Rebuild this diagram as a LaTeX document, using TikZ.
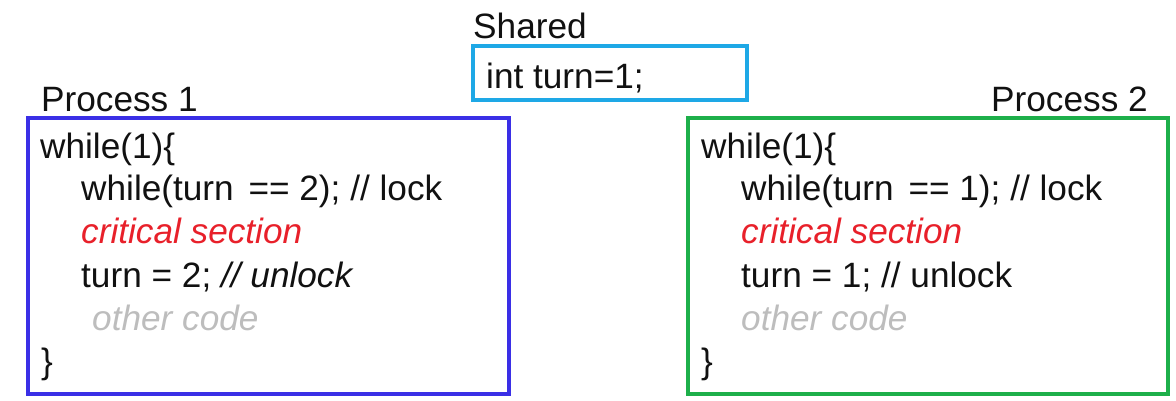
\documentclass[tikz,border=0pt]{standalone}
\usepackage{fontspec}
\setmainfont{Liberation Sans}
\definecolor{pblue}{HTML}{3A2FE6}
\definecolor{pgreen}{HTML}{1DAF4A}
\definecolor{pcyan}{HTML}{1EA8E6}
\definecolor{cred}{HTML}{E8202A}
\definecolor{cgray}{HTML}{BDBDBD}
\definecolor{ink}{HTML}{111111}
\begin{document}
\begin{tikzpicture}[x=1pt,y=-1pt,
  frame/.style={draw=#1,line width=4pt,inner sep=0pt,anchor=north west},
  txt/.style={anchor=base west,inner sep=0pt,text=ink,font=\fontsize{35.2}{43}\selectfont},
  crit/.style={txt,text=cred,font=\fontsize{35.2}{43}\selectfont\itshape},
  other/.style={txt,text=cgray,font=\fontsize{35.2}{43}\selectfont\itshape}]
\useasboundingbox (0,0) rectangle (1176,400);
% shared
\node[txt] (sharedlbl) at (473,38) {Shared};
\node[frame=pcyan,line width=3.5pt,minimum width=274pt,minimum height=54pt] (shared) at (471,44) {};
\node[txt] (sharedcode) at (486,88) {int turn=1;};
% process 1
\node[txt] (p1lbl) at (41,111) {Process 1};
\node[frame=pblue,minimum width=481pt,minimum height=276pt] (p1) at (26,116) {};
\node[txt] (a1) at (40,158) {while(1)\{};
\node[txt] (a2) at (81,200) {while(turn\kern5pt\ == 2); // lock};
\node[crit] (a3) at (81,243) {critical section};
\node[txt] (a4) at (81,287) {turn = 2; \textit{// unlock}};
\node[other] (a5) at (92,330) {other code};
\node[txt] (a6) at (41,373) {\}};
% process 2
\node[txt] (p2lbl) at (991,111) {Process 2};
\node[frame=pgreen,minimum width=480pt,minimum height=276pt] (p2) at (686,116) {};
\node[txt] (b1) at (701,158) {while(1)\{};
\node[txt] (b2) at (741,200) {while(turn\kern5pt\ == 1); // lock};
\node[crit] (b3) at (741,243) {critical section};
\node[txt] (b4) at (741,287) {turn = 1; // unlock};
\node[other] (b5) at (741,330) {other code};
\node[txt] (b6) at (701,373) {\}};
\end{tikzpicture}
\end{document}
